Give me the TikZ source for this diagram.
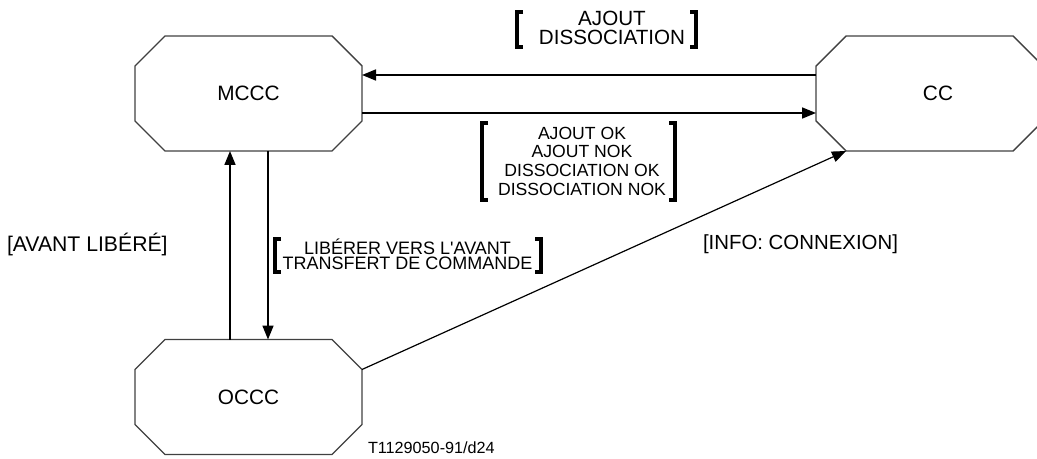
\documentclass[tikz,border=0pt]{standalone}
\usepackage{fontspec}
\setmainfont{Liberation Sans}
\usetikzlibrary{arrows.meta}
\begin{document}
\begin{tikzpicture}[x=0.5pt,y=-0.5pt,
  box/.style={rectangle,draw=none,inner sep=0pt,outer sep=0pt,font=\fontsize{10.4}{12}\selectfont},
  octline/.style={draw=black!75,line width=0.7pt,line join=miter},
  conn/.style={line width=0.85pt,-{Triangle[length=7pt,width=5.5pt]}},
  thinconn/.style={line width=0.6pt,-{Triangle[length=7pt,width=5.5pt]}},
  brk/.style={line width=1.6pt,line cap=butt},
  lbl/.style={inner sep=0pt,outer sep=0pt,align=center}]
\useasboundingbox (0,0) rectangle (1037,459);
\clip (0,0) rectangle (1037,459);
\def\octa#1{\draw[octline] ([xshift=15pt]#1.north west) -- ([xshift=-15pt]#1.north east) -- ([yshift=-15pt]#1.north east) -- ([yshift=15pt]#1.south east) -- ([xshift=-15pt]#1.south east) -- ([xshift=15pt]#1.south west) -- ([yshift=15pt]#1.south west) -- ([yshift=-15pt]#1.north west) -- cycle;}
% boxes
\node[box,minimum width=113.5pt,minimum height=57.5pt] (mccc) at (248.5,93.5) {MCCC};
\node[box,minimum width=113.5pt,minimum height=57.5pt] (occc) at (248.5,397) {OCCC};
\node[box,minimum width=113.5pt,minimum height=57.5pt] (cc) at (929.5,93.5) {};
\node[box] (cclabel) at (938,93.5) {CC};
\octa{mccc}
\octa{occc}
\octa{cc}
% helper coordinates
\coordinate (ya) at (0,75);
\coordinate (yb) at (0,113);
\coordinate (xa) at (230,0);
\coordinate (xb) at (268,0);
% connectors
\draw[conn] (cc.west |- ya) -- (mccc.east |- ya);
\draw[conn] (mccc.east |- yb) -- (cc.west |- yb);
\draw[conn] (occc.north -| xa) -- (mccc.south -| xa);
\draw[conn] (mccc.south -| xb) -- (occc.north -| xb);
\draw[thinconn] ([yshift=-15pt]occc.north east) -- ([xshift=15pt]cc.south west);
% labels
\node[lbl,font=\fontsize{10.3}{9.5}\selectfont] (l1) at (612,27.5) {AJOUT\\DISSOCIATION};
\draw[brk] (523,12) -- (517,12) -- (517,47) -- (523,47);
\draw[brk] (690,12) -- (696,12) -- (696,47) -- (690,47);
\node[lbl,font=\fontsize{8.8}{9.35}\selectfont] (l2) at (582,161) {AJOUT OK\\AJOUT NOK\\DISSOCIATION OK\\DISSOCIATION NOK};
\draw[brk] (488,123) -- (482,123) -- (482,200) -- (488,200);
\draw[brk] (669,123) -- (675,123) -- (675,200) -- (669,200);
\node[lbl,font=\fontsize{9}{7.5}\selectfont] (l3) at (407.5,254) {LIBÉRER VERS L\textquotesingle AVANT\\TRANSFERT DE COMMANDE};
\draw[brk] (281,239) -- (275,239) -- (275,272) -- (281,272);
\draw[brk] (535,239) -- (541,239) -- (541,272) -- (535,272);
\node[lbl,anchor=west,font=\fontsize{10.6}{12}\selectfont] (l4) at (7,245) {[AVANT LIBÉRÉ]};
\node[lbl,anchor=west,font=\fontsize{10.2}{12}\selectfont] (l5) at (703,244) {[INFO: CONNEXION]};
\node[lbl,anchor=west,font=\fontsize{8.1}{10}\selectfont] (l6) at (368,447.5) {T1129050-91/d24};
\end{tikzpicture}
\end{document}
